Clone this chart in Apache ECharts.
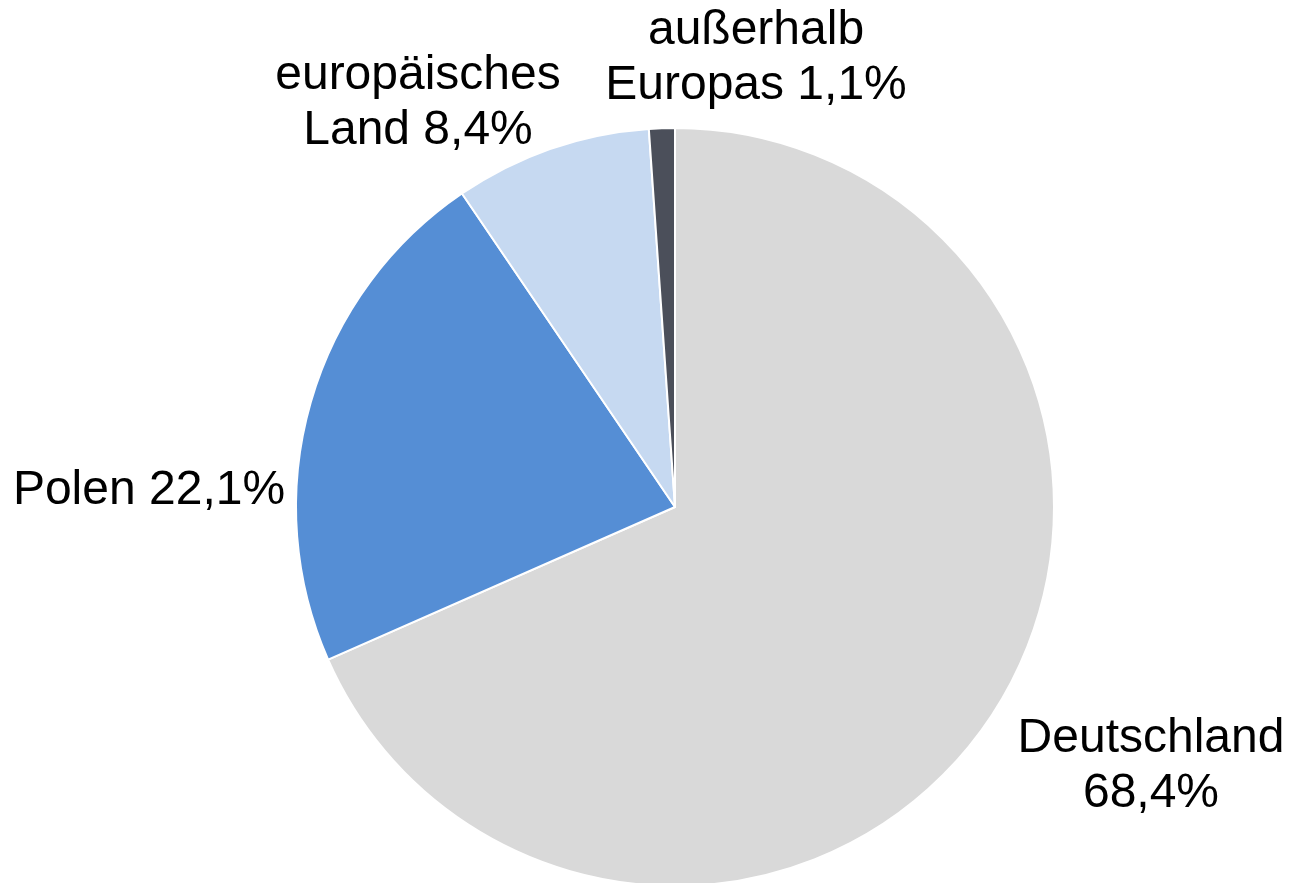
<!DOCTYPE html>
<html>
<head>
<meta charset="utf-8">
<script src="https://cdn.jsdelivr.net/npm/echarts@6/dist/echarts.min.js"></script>
<style>
  html, body { margin: 0; padding: 0; background: #fff; }
  #chart { width: 1290px; height: 883px; }
</style>
</head>
<body>
<div id="chart"></div>
<script>
// Herkunft, Anteile in %
var names = ['Deutschland', 'Polen', 'europäisches\nLand', 'außerhalb\nEuropas'];
var shares = [68.4, 22.1, 8.4, 1.1];
var separators = ['\n', ' ', ' ', ' '];
var colors = ['#d9d9d9', '#558ed5', '#c6d9f1', '#4b4f5a'];

// Position der Beschriftungen (Mitte des Textblocks)
var labelPos = [[1151, 766], [149, 491], [418, 103], [756, 58]];

var pieData = names.map(function (n, i) {
  return { name: n, value: shares[i], itemStyle: { color: colors[i] } };
});

var myChart = echarts.init(document.getElementById('chart'));
myChart.setOption({
  animation: false,
  series: [{
    type: 'pie',
    center: [675, 507],
    radius: 379,
    startAngle: 90,
    clockwise: true,
    data: pieData,
    itemStyle: { borderColor: '#fff', borderWidth: 2 },
    label: {
      show: true,
      position: 'outside',
      overflow: 'none',
      fontFamily: '"Liberation Sans", Arial, sans-serif',
      fontSize: 48,
      lineHeight: 55,
      color: '#000',
      align: 'center',
      formatter: function (p) {
        return p.name + separators[p.dataIndex] + p.value.toFixed(1).replace('.', ',') + '%';
      }
    },
    labelLine: { show: false },
    labelLayout: function (p) {
      var pos = labelPos[p.dataIndex];
      return {
        x: pos[0],
        y: pos[1],
        align: 'center',
        verticalAlign: 'middle'
      };
    }
  }]
});
</script>
</body>
</html>
